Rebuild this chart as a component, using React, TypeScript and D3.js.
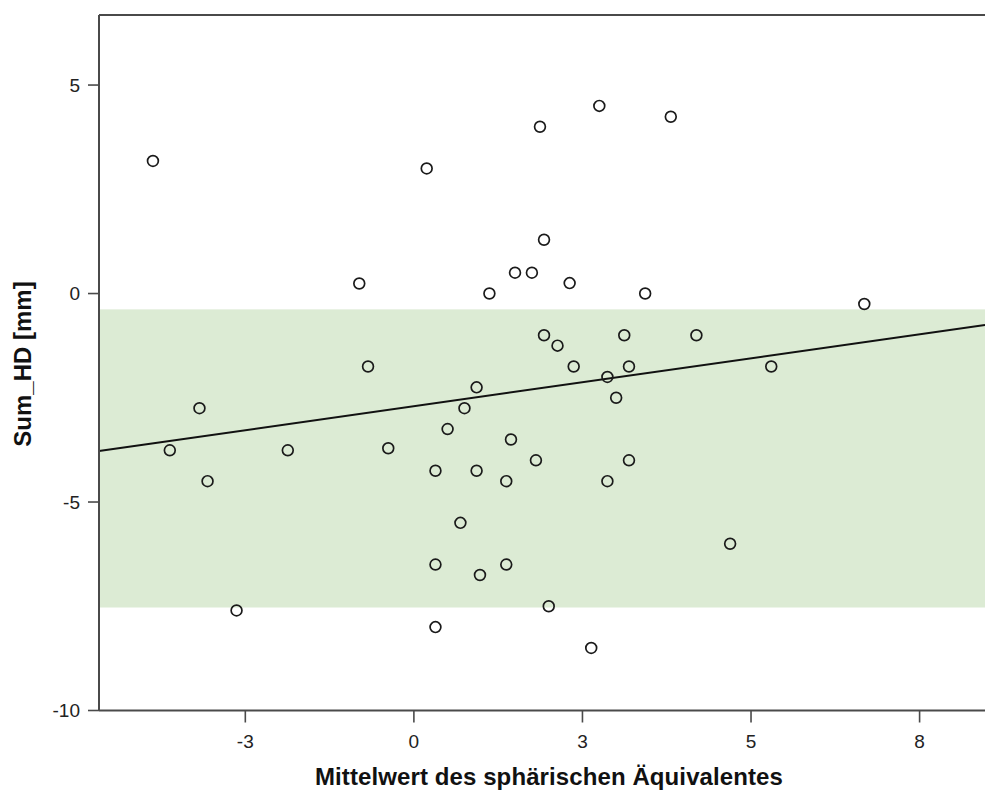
import React from "react";
import * as d3 from "d3";

// Mean spherical equivalent (x) and Sum_HD in mm (y) per eye
const seMean: number[] = [
  -3.87, -3.62, -3.18, -3.06, -2.63, -1.87, -0.81, -0.68, -0.38, 0.19,
  0.32, 0.32, 0.32, 0.5, 0.69, 0.75, 0.93, 0.93, 0.98, 1.12,
  1.37, 1.37, 1.44, 1.5, 1.75, 1.81, 1.87, 1.93, 1.93, 2.0,
  2.13, 2.31, 2.37, 2.63, 2.75, 2.87, 2.87, 3.0, 3.12, 3.19,
  3.19, 3.43, 3.81, 4.19, 4.69, 5.3, 6.68,
];
const sumHD: number[] = [
  3.18, -3.76, -2.75, -4.5, -7.6, -3.76, 0.24, -1.75, -3.71, 3.0,
  -4.25, -6.5, -8.0, -3.25, -5.5, -2.75, -2.25, -4.25, -6.75, 0.0,
  -4.5, -6.5, -3.5, 0.5, 0.5, -4.0, 4.0, 1.29, -1.0, -7.5,
  -1.25, 0.25, -1.75, -8.5, 4.5, -2.0, -4.5, -2.5, -1.0, -1.75,
  -4.0, 0.0, 4.24, -1.0, -6.0, -1.75, -0.25,
];

// Shaded reference band (lower / upper limit of Sum_HD)
const bandLimits: number[] = [-7.53, -0.38];

// Linear fit: Sum_HD = intercept + slope * SE
const fitIntercept = -2.703;
const fitSlope = 0.23;

// Axis ticks and their printed labels
const xTickValues: number[] = [-2.5, 0, 2.5, 5, 7.5];
const xTickLabels: string[] = ["-3", "0", "3", "5", "8"];
const yTickValues: number[] = [-10, -5, 0, 5];
const yTickLabels: string[] = ["-10", "-5", "0", "5"];

const xTitle = "Mittelwert des sphärischen Äquivalentes";
const yTitle = "Sum_HD [mm]";

const W = 985;
const H = 794;
const FONT = "'Liberation Sans', Arial, Helvetica, sans-serif";

export default function App() {
  const left = 99;
  const right = 985;
  const top = 15;
  const bottom = 710.5;
  const xDomain: [number, number] = [-4.67, 8.47];

  const x = d3.scaleLinear().domain(xDomain).range([left, right]);
  const y = d3.scaleLinear().domain([-10, 6.68]).range([bottom, top]);

  const fitLine = d3
    .line<number>()
    .x((v) => x(v))
    .y((v) => y(fitIntercept + fitSlope * v))(xDomain) as string;

  const axisColor = "#4a4a4a";

  return (
    <svg
      width={W}
      height={H}
      viewBox={`0 0 ${W} ${H}`}
      style={{ position: "absolute", left: 0, top: 0, background: "#fff" }}
    >
      {/* reference band */}
      <rect
        x={left}
        y={y(bandLimits[1])}
        width={right - left}
        height={y(bandLimits[0]) - y(bandLimits[1])}
        fill="#dcebd4"
      />

      {/* regression line */}
      <path d={fitLine} fill="none" stroke="#111" strokeWidth={2} />

      {/* data points */}
      {seMean.map((v, i) => (
        <circle
          key={i}
          cx={x(v)}
          cy={y(sumHD[i])}
          r={5.4}
          fill="none"
          stroke="#1a1a1a"
          strokeWidth={1.7}
        />
      ))}

      {/* frame */}
      <line x1={left} x2={right} y1={top} y2={top} stroke={axisColor} strokeWidth={2} />
      <line x1={left} x2={left} y1={top} y2={bottom} stroke={axisColor} strokeWidth={2} />
      <line x1={left} x2={right} y1={bottom} y2={bottom} stroke={axisColor} strokeWidth={2} />

      {/* y axis ticks */}
      {yTickValues.map((v, i) => (
        <g key={`y${i}`}>
          <line x1={left - 11} x2={left} y1={y(v)} y2={y(v)} stroke={axisColor} strokeWidth={1.6} />
          <text
            x={left - 19}
            y={y(v)}
            dy="0.36em"
            textAnchor="end"
            fontFamily={FONT}
            fontSize={19}
            fill="#222"
          >
            {yTickLabels[i]}
          </text>
        </g>
      ))}

      {/* x axis ticks */}
      {xTickValues.map((v, i) => (
        <g key={`x${i}`}>
          <line x1={x(v)} x2={x(v)} y1={bottom} y2={bottom + 12} stroke={axisColor} strokeWidth={1.6} />
          <text
            x={x(v)}
            y={748}
            textAnchor="middle"
            fontFamily={FONT}
            fontSize={19}
            fill="#222"
          >
            {xTickLabels[i]}
          </text>
        </g>
      ))}

      {/* axis titles */}
      <text
        x={549}
        y={785}
        textAnchor="middle"
        fontFamily={FONT}
        fontSize={24}
        fontWeight="bold"
        letterSpacing={0.1}
        fill="#111"
      >
        {xTitle}
      </text>
      <text
        transform={`translate(31, 364) rotate(-90)`}
        textAnchor="middle"
        fontFamily={FONT}
        fontSize={24}
        fontWeight="bold"
        fill="#111"
      >
        {yTitle}
      </text>
    </svg>
  );
}
